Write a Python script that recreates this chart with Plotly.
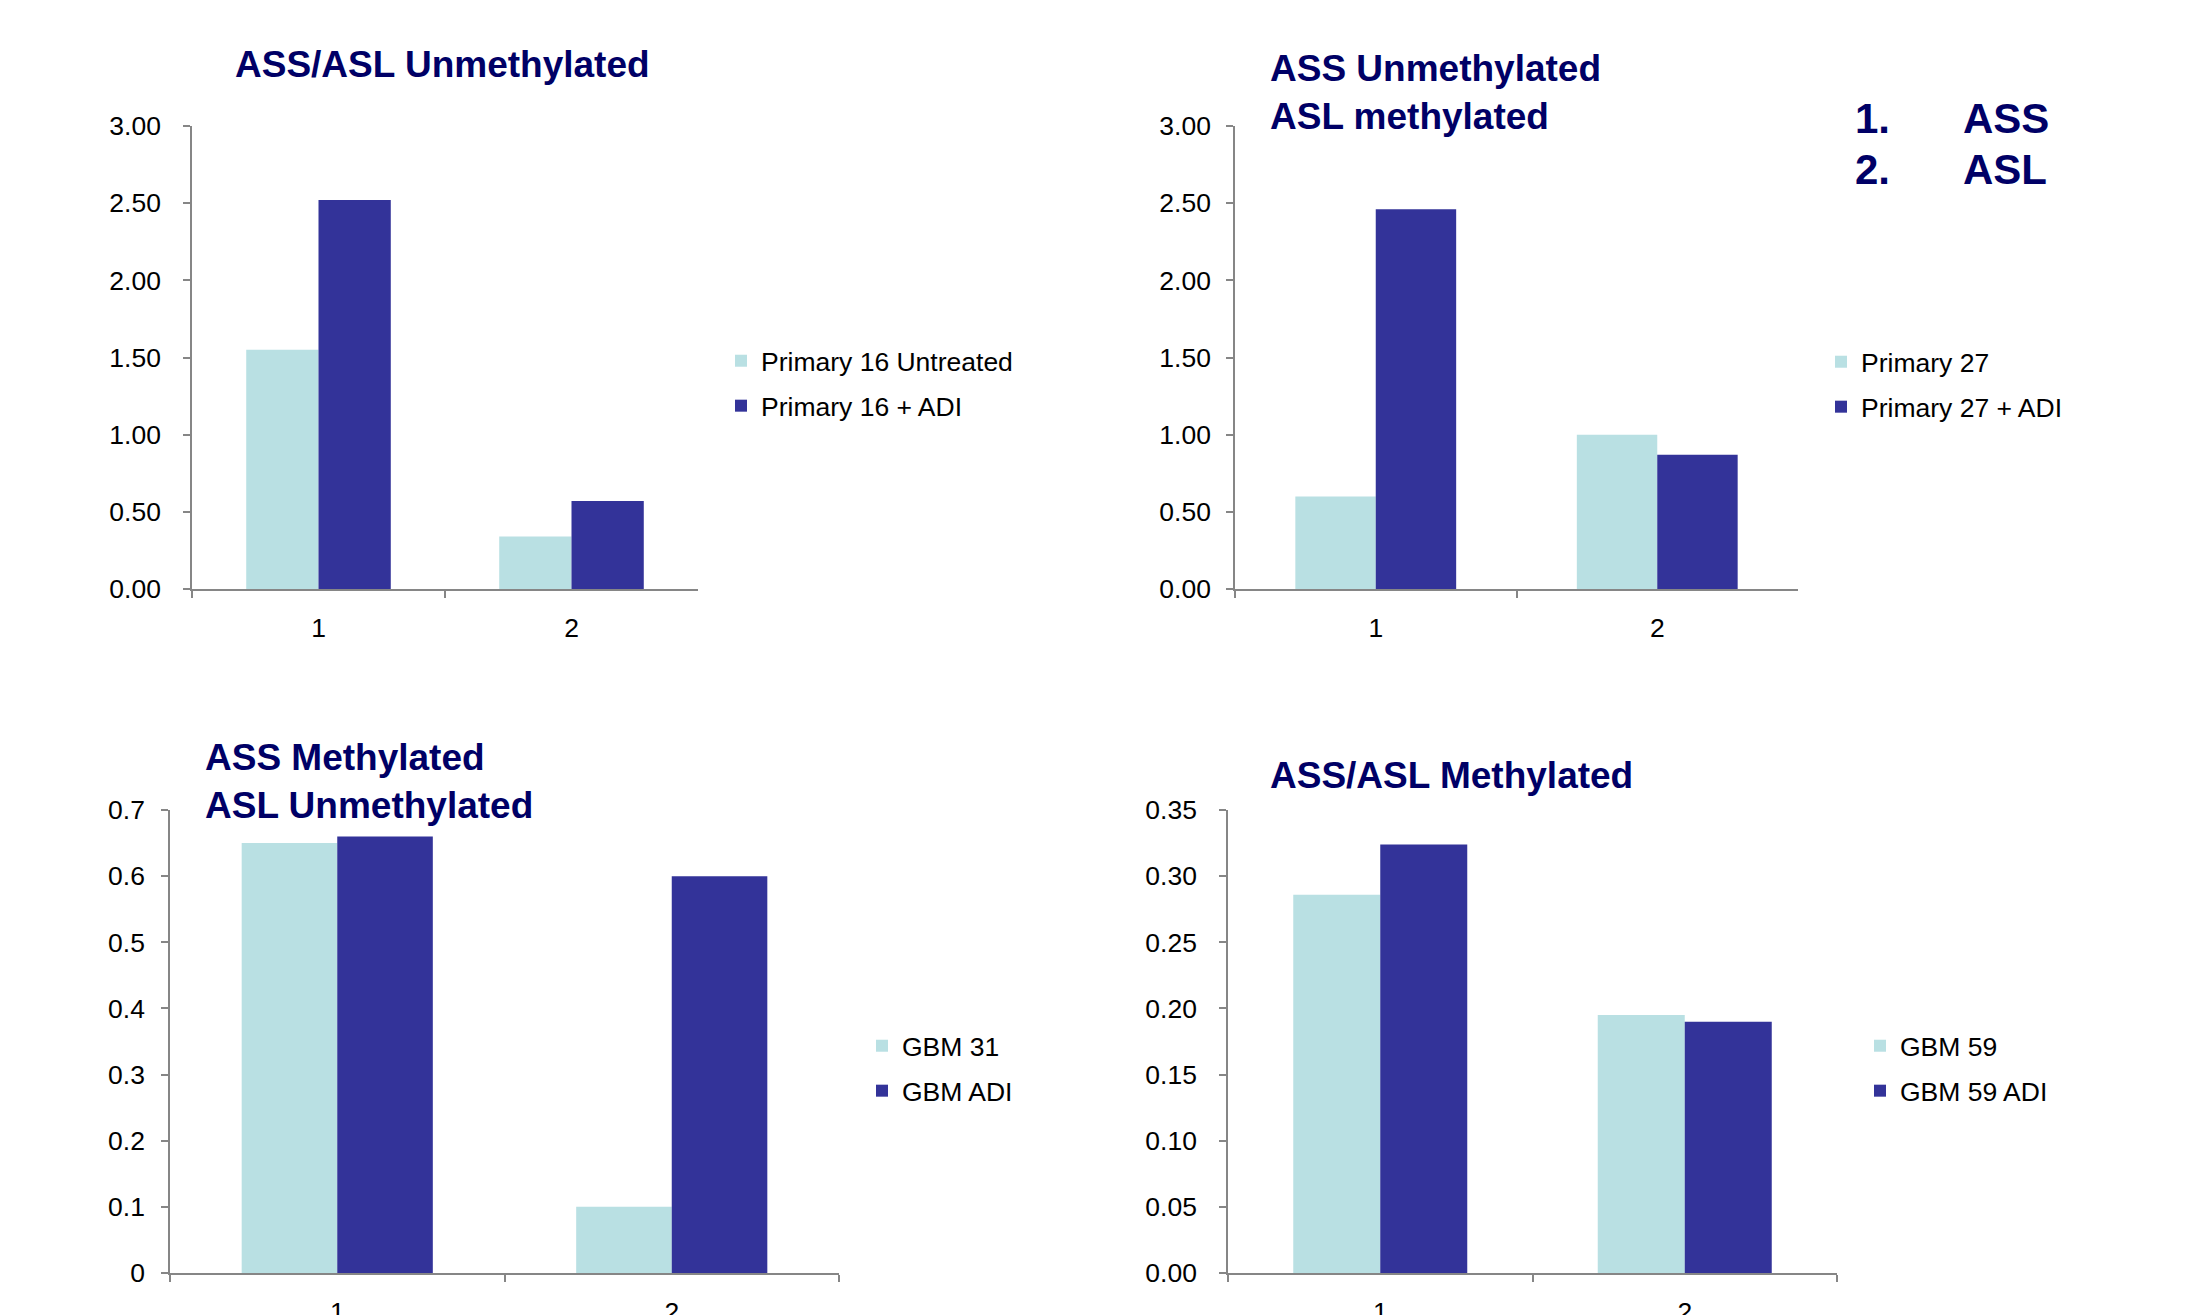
import plotly.graph_objects as go

W, H = 2194, 1315

categories = ["1", "2"]

titles = [
    "ASS/ASL Unmethylated",
    "ASS Unmethylated<br>ASL methylated",
    "ASS Methylated<br>ASL Unmethylated",
    "ASS/ASL Methylated",
]
series_names = [
    ("Primary 16 Untreated", "Primary 16 + ADI"),
    ("Primary 27", "Primary 27 + ADI"),
    ("GBM 31", "GBM ADI"),
    ("GBM 59", "GBM 59 ADI"),
]
light_values = [
    [1.55, 0.34],
    [0.60, 1.00],
    [0.65, 0.10],
    [0.286, 0.195],
]
dark_values = [
    [2.52, 0.57],
    [2.46, 0.87],
    [0.66, 0.60],
    [0.324, 0.190],
]
y_ranges = [[0, 3.0], [0, 3.0], [0, 0.7], [0, 0.35]]
y_dticks = [0.5, 0.5, 0.1, 0.05]
y_formats = [".2f", ".2f", "", ".2f"]
key_numbers = ["1.", "2."]
key_labels = ["ASS", "ASL"]

LIGHT = "#B9E0E3"
DARK = "#333399"
NAVY = "#000066"
AXIS = "#868686"
FONT = "Liberation Sans, Arial, sans-serif"

# layout in pixels
x_dom_px = [(192, 698), (1235, 1798), (170, 839), (1228, 1837)]
y_dom_px = [(126, 589), (126, 589), (810, 1273), (810, 1273)]
y_standoff = [17, 10, 11, 17]
legend_px = [(761, 362), (1861, 363), (902, 1047), (1900, 1047)]
title_px = [(233, 65), (1268, 93), (203, 782), (1268, 775)]

fig = go.Figure()

for i in range(4):
    ax = "" if i == 0 else str(i + 1)
    leg = "legend" if i == 0 else "legend" + str(i + 1)
    fig.add_trace(go.Bar(
        x=categories, y=light_values[i], name=series_names[i][0],
        marker=dict(color=LIGHT, line=dict(width=0)),
        xaxis="x" + ax, yaxis="y" + ax, legend=leg, legendgroup="a%d" % i,
    ))
    fig.add_trace(go.Bar(
        x=categories, y=dark_values[i], name=series_names[i][1],
        marker=dict(color=DARK, line=dict(width=0)),
        xaxis="x" + ax, yaxis="y" + ax, legend=leg, legendgroup="b%d" % i,
    ))

TS = 26.5

layout = dict(
    width=W, height=H,
    margin=dict(l=0, r=0, t=0, b=0, autoexpand=False),
    paper_bgcolor="white", plot_bgcolor="white",
    font=dict(family=FONT, size=TS, color="black"),
    barmode="group", bargap=0.4286, bargroupgap=0,
    showlegend=True,
    annotations=[],
)

for i in range(4):
    ax = "" if i == 0 else str(i + 1)
    x0, x1 = x_dom_px[i]
    yt, yb = y_dom_px[i]
    layout["xaxis" + ax] = dict(
        domain=[x0 / W, x1 / W], anchor="y" + ax,
        type="category", showline=True, linecolor=AXIS, linewidth=1.5,
        ticks="outside", tickson="boundaries", ticklen=7, tickwidth=1.5,
        tickcolor=AXIS, showgrid=False, zeroline=False,
        tickfont=dict(size=TS, color="black"), ticklabelstandoff=14,
        automargin=False, fixedrange=True,
    )
    layout["yaxis" + ax] = dict(
        domain=[1 - yb / H, 1 - yt / H], anchor="x" + ax,
        range=y_ranges[i], dtick=y_dticks[i], tick0=0, tickformat=y_formats[i],
        showline=True, linecolor=AXIS, linewidth=1.5,
        ticks="outside", ticklen=7, tickwidth=1.5, tickcolor=AXIS,
        showgrid=False, zeroline=False,
        tickfont=dict(size=TS, color="black"), ticklabelstandoff=y_standoff[i],
        automargin=False, fixedrange=True,
    )
    lx, ly = legend_px[i]
    leg = "legend" if i == 0 else "legend" + str(i + 1)
    layout[leg] = dict(
        x=(lx - 40) / W, y=1 - (ly - 25) / H, xanchor="left", yanchor="top",
        xref="paper", yref="paper",
        bgcolor="rgba(0,0,0,0)", borderwidth=0,
        font=dict(size=TS, color="black", family=FONT),
        traceorder="grouped", tracegroupgap=7.5,
    )
    tx, ty = title_px[i]
    layout["annotations"].append(dict(
        text="<b>%s</b>" % titles[i], x=tx / W, y=1 - ty / H,
        xref="paper", yref="paper", xanchor="left", yanchor="middle",
        align="left", showarrow=False,
        font=dict(size=37, color=NAVY, family=FONT),
    ))

key_rows_y = [118, 169]
for j in range(2):
    layout["annotations"].append(dict(
        text="<b>%s</b>" % key_numbers[j], x=1853 / W, y=1 - key_rows_y[j] / H,
        xref="paper", yref="paper", xanchor="left", yanchor="middle",
        showarrow=False, font=dict(size=42, color=NAVY, family=FONT),
    ))
    layout["annotations"].append(dict(
        text="<b>%s</b>" % key_labels[j], x=1961 / W, y=1 - key_rows_y[j] / H,
        xref="paper", yref="paper", xanchor="left", yanchor="middle",
        showarrow=False, font=dict(size=42, color=NAVY, family=FONT),
    ))

fig.update_layout(**layout)
fig.write_html("out.html", config=dict(displayModeBar=False))
